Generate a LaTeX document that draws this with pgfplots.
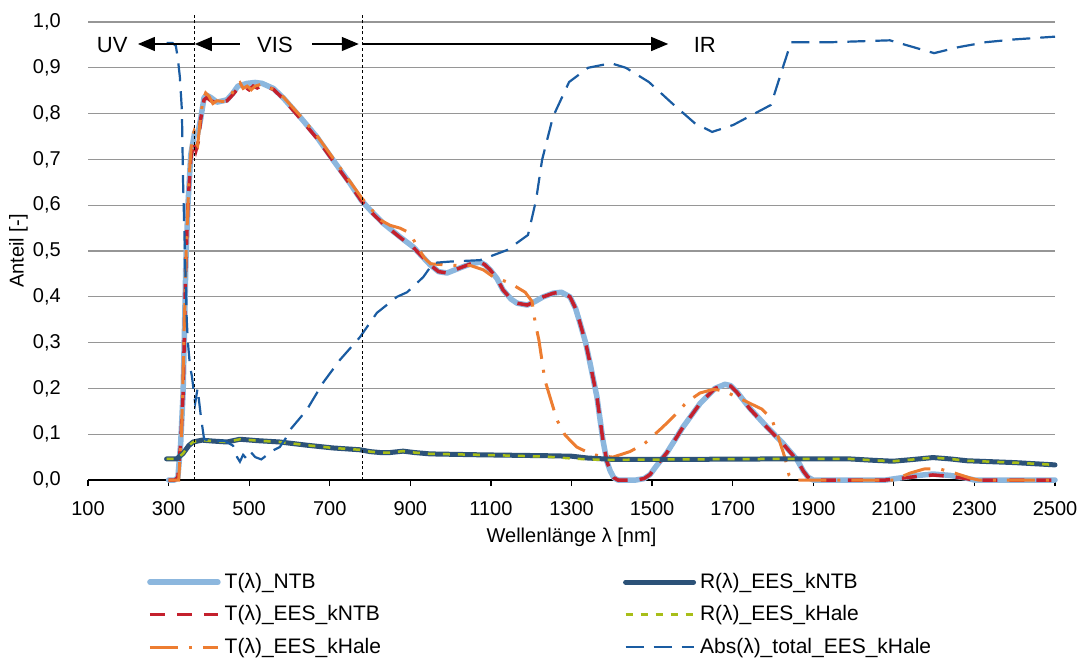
\documentclass[border=0pt]{standalone}
\usepackage{fontspec}
\setmainfont{Liberation Sans}
\usepackage{pgfplots}
\pgfplotsset{compat=1.18}
\usetikzlibrary{arrows.meta}
\definecolor{cLB}{RGB}{140,183,222}
\definecolor{cDB}{RGB}{44,82,120}
\definecolor{cRed}{RGB}{196,32,45}
\definecolor{cOr}{RGB}{237,125,49}
\definecolor{cYG}{RGB}{168,190,24}
\definecolor{cAbs}{RGB}{26,92,162}
\definecolor{cGrid}{RGB}{150,150,150}
\pgfplotsset{
  sTNTB/.style={cLB, line width=5.5pt, line join=round, line cap=round},
  sTkNTB/.style={cRed, line width=3.5pt, dash pattern=on 15pt off 12pt},
  sTkHale/.style={cOr, line width=3pt, dash pattern=on 28pt off 11pt on 3pt off 11pt},
  sRkNTB/.style={cDB, line width=5pt, line join=round, line cap=round},
  sRkHale/.style={cYG, line width=2.5pt, dash pattern=on 7pt off 8pt},
  sAbs/.style={cAbs, line width=2.2pt, dash pattern=on 18pt off 10pt},
}
\begin{document}
\begin{tikzpicture}
\begin{axis}[
  at={(88pt,177pt)}, anchor=south west,
  scale only axis, width=967pt, height=458pt,
  xmin=100, xmax=2500, ymin=0, ymax=1,
  clip=false,
  axis x line*=bottom, axis y line*=left,
  x axis line style={black, line width=1.2pt, -},
  y axis line style={draw=none},
  xtick={100,300,500,700,900,1100,1300,1500,1700,1900,2100,2300,2500},
  ytick={0,0.1,0.2,0.3,0.4,0.5,0.6,0.7,0.8,0.9,1},
  tick align=outside,
  major tick length=6pt,
  xtick style={black, line width=1.2pt},
  ytick style={draw=none},
  ymajorgrids, major grid style={cGrid, line width=1.2pt},
  /pgf/number format/assume math mode=true,
  scaled ticks=false,
  tick label style={font=\fontsize{20}{24}\selectfont},
  xticklabel style={anchor=center, yshift=-23pt, /pgf/number format/.cd, set thousands separator={}},
  yticklabel style={anchor=east, inner sep=0pt, xshift=-21pt, /pgf/number format/.cd, fixed, fixed zerofill, precision=1, use comma},
  xlabel={Wellenlänge λ [nm]},
  ylabel={Anteil [-]},
  label style={font=\fontsize{20}{24}\selectfont},
  xlabel style={at={(axis description cs:0.5,-0.1245)}, anchor=center},
  ylabel style={at={(axis description cs:-0.072,0.5)}, anchor=center, rotate=0},
  legend columns=2,
  legend cell align=left,
  legend image code/.code={\draw (0pt,0pt) -- (68pt,0pt);},
  legend style={draw=none, fill=none, inner sep=0pt,
    at={(axis description cs:0.061,-0.2009)}, anchor=north west,
    font=\fontsize{21}{25}\selectfont, row sep=12.5pt,
    nodes={inner sep=0pt, text height=16pt, text depth=4pt},
    /tikz/every odd column/.append style={column sep=4pt},
    /tikz/every even column/.append style={column sep=242pt}},
]
% T(lambda)_NTB
\addplot[sTNTB, forget plot] coordinates {
(300,0) (315,0) (323,0.005) (330,0.08) (336,0.19) (340,0.35) (343,0.48) (348,0.60) (355,0.71) (365,0.76) (372,0.755) (380,0.79) (388,0.835) (395,0.84) (405,0.835) (420,0.825) (445,0.83) (460,0.845) (472,0.86) (495,0.866) (515,0.868) (532,0.866) (560,0.855) (585,0.834) (626,0.793) (668,0.749) (708,0.699) (750,0.648) (778,0.611) (805,0.585) (832,0.561) (874,0.531) (907,0.509) (949,0.47) (970,0.455) (991,0.452) (1023,0.463) (1050,0.472) (1073,0.476) (1085,0.47) (1098,0.459) (1115,0.44) (1130,0.415) (1150,0.395) (1165,0.386) (1190,0.382) (1210,0.39) (1230,0.40) (1255,0.408) (1275,0.41) (1296,0.40) (1310,0.375) (1321,0.343) (1335,0.30) (1346,0.255) (1363,0.182) (1378,0.087) (1388,0.04) (1396,0.02) (1405,0.005) (1415,0) (1460,0) (1480,0.003) (1495,0.012) (1510,0.03) (1537,0.06) (1577,0.116) (1619,0.167) (1656,0.2) (1681,0.209) (1695,0.206) (1710,0.193) (1743,0.156) (1785,0.116) (1825,0.08) (1860,0.044) (1875,0.02) (1887,0.006) (1900,0) (2080,0) (2120,0.005) (2160,0.01) (2197,0.013) (2240,0.01) (2280,0.004) (2300,0) (2500,0)
};
% T(lambda)_EES_kNTB
\addplot[sTkNTB, forget plot] coordinates {
(300,0) (315,0) (323,0.005) (330,0.08) (336,0.19) (340,0.35) (343,0.48) (348,0.60) (355,0.70) (362,0.74) (368,0.72) (374,0.74) (380,0.79) (388,0.83) (395,0.835) (405,0.828) (420,0.823) (445,0.828) (460,0.842) (472,0.855) (490,0.858) (500,0.852) (510,0.86) (520,0.856) (532,0.862) (560,0.853) (585,0.832) (626,0.79) (668,0.746) (708,0.697) (750,0.646) (778,0.61) (805,0.583) (832,0.56) (874,0.53) (907,0.508) (949,0.47) (970,0.455) (991,0.452) (1023,0.463) (1050,0.472) (1073,0.476) (1085,0.47) (1098,0.459) (1115,0.44) (1130,0.415) (1150,0.395) (1165,0.386) (1190,0.382) (1210,0.39) (1230,0.40) (1255,0.408) (1275,0.41) (1296,0.40) (1310,0.375) (1321,0.343) (1335,0.30) (1346,0.255) (1363,0.182) (1378,0.087) (1388,0.04) (1396,0.02) (1405,0.005) (1415,0) (1460,0) (1480,0.003) (1495,0.012) (1510,0.03) (1537,0.06) (1577,0.116) (1619,0.167) (1656,0.2) (1681,0.208) (1695,0.205) (1710,0.192) (1743,0.155) (1785,0.115) (1825,0.079) (1860,0.043) (1875,0.02) (1887,0.006) (1900,0) (2080,0) (2120,0.004) (2160,0.008) (2197,0.011) (2240,0.008) (2280,0.003) (2300,0) (2500,0)
};
% T(lambda)_EES_kHale
\addplot[sTkHale, forget plot] coordinates {
(300,0) (325,0) (332,0.1) (338,0.3) (343,0.48) (348,0.6) (353,0.69) (358,0.745) (363,0.76) (368,0.735) (372,0.73) (378,0.78) (385,0.83) (392,0.845) (400,0.838) (410,0.822) (420,0.828) (440,0.826) (455,0.84) (470,0.865) (477,0.868) (485,0.855) (495,0.86) (505,0.852) (515,0.86) (530,0.864) (560,0.853) (585,0.836) (626,0.796) (668,0.752) (708,0.703) (750,0.652) (780,0.615) (800,0.595) (825,0.568) (850,0.556) (874,0.55) (890,0.543) (904,0.531) (920,0.505) (935,0.485) (950,0.472) (1000,0.469) (1050,0.468) (1081,0.459) (1105,0.444) (1147,0.43) (1185,0.41) (1202,0.39) (1210,0.343) (1219,0.306) (1234,0.218) (1247,0.18) (1264,0.131) (1284,0.098) (1313,0.072) (1353,0.055) (1403,0.05) (1445,0.062) (1482,0.08) (1527,0.116) (1557,0.142) (1586,0.17) (1619,0.19) (1652,0.198) (1677,0.195) (1718,0.178) (1772,0.155) (1797,0.133) (1810,0.102) (1830,0.048) (1840,0.01) (1850,0) (2100,0) (2140,0.015) (2175,0.024) (2210,0.025) (2252,0.015) (2290,0.004) (2310,0) (2500,0)
};
% R(lambda)_EES_kNTB
\addplot[sRkNTB, forget plot] coordinates {
(295,0.046) (320,0.046) (336,0.058) (350,0.075) (361,0.083) (383,0.087) (410,0.085) (445,0.083) (477,0.089) (519,0.086) (576,0.083) (643,0.076) (708,0.07) (775,0.066) (800,0.062) (825,0.06) (850,0.06) (882,0.063) (910,0.06) (949,0.057) (1073,0.055) (1239,0.053) (1300,0.052) (1340,0.048) (1403,0.045) (1569,0.045) (1800,0.046) (1991,0.046) (2050,0.043) (2098,0.041) (2150,0.045) (2197,0.049) (2240,0.046) (2282,0.042) (2400,0.038) (2500,0.033)
};
% R(lambda)_EES_kHale
\addplot[sRkHale, forget plot] coordinates {
(295,0.046) (320,0.046) (336,0.058) (350,0.075) (361,0.083) (383,0.087) (410,0.085) (445,0.083) (477,0.089) (519,0.086) (576,0.083) (643,0.076) (708,0.07) (775,0.066) (800,0.062) (825,0.06) (850,0.06) (882,0.063) (910,0.06) (949,0.057) (1073,0.055) (1239,0.051) (1300,0.047) (1340,0.045) (1403,0.044) (1569,0.045) (1800,0.046) (1991,0.046) (2050,0.043) (2098,0.041) (2150,0.045) (2197,0.049) (2240,0.046) (2282,0.042) (2400,0.038) (2500,0.033)
};
% Abs(lambda)_total_EES_kHale
\addplot[sAbs, forget plot] coordinates {
(295,0.954) (310,0.954) (318,0.948) (323,0.92) (328,0.88) (333,0.808) (336,0.65) (341,0.48) (345,0.35) (348,0.3) (353,0.25) (358,0.226) (366,0.168) (372,0.2) (380,0.14) (388,0.09) (400,0.085) (440,0.085) (460,0.075) (470,0.05) (477,0.04) (485,0.055) (495,0.045) (505,0.06) (515,0.05) (530,0.045) (545,0.055) (560,0.065) (576,0.072) (590,0.09) (601,0.109) (643,0.153) (683,0.212) (725,0.262) (775,0.312) (817,0.365) (867,0.4) (892,0.41) (932,0.443) (957,0.474) (1000,0.477) (1073,0.48) (1140,0.502) (1192,0.535) (1212,0.611) (1227,0.699) (1254,0.793) (1294,0.869) (1341,0.9) (1398,0.91) (1435,0.9) (1492,0.869) (1549,0.823) (1606,0.779) (1649,0.76) (1701,0.775) (1795,0.819) (1825,0.902) (1845,0.956) (1950,0.956) (2090,0.96) (2200,0.932) (2260,0.945) (2329,0.956) (2400,0.962) (2500,0.968)
};
\addlegendimage{sTNTB}\addlegendentry{T(λ)\_NTB}
\addlegendimage{sRkNTB}\addlegendentry{R(λ)\_EES\_kNTB}
\addlegendimage{sTkNTB}\addlegendentry{T(λ)\_EES\_kNTB}
\addlegendimage{sRkHale}\addlegendentry{R(λ)\_EES\_kHale}
\addlegendimage{sTkHale}\addlegendentry{T(λ)\_EES\_kHale}
\addlegendimage{sAbs}\addlegendentry{Abs(λ)\_total\_EES\_kHale}
% region markers
\draw[black, line width=0.9pt, dash pattern=on 3pt off 2.5pt] (axis cs:365,0) -- (axis cs:365,1.016);
\draw[black, line width=0.9pt, dash pattern=on 3pt off 2.5pt] (axis cs:780,0) -- (axis cs:780,1.016);
\draw[black, line width=1.3pt, -{Triangle[length=17pt,width=14pt]}] (axis cs:365,0.952) -- (axis cs:224,0.952);
\draw[black, line width=1.3pt, -{Triangle[length=17pt,width=14pt]}] (axis cs:477,0.952) -- (axis cs:365,0.952);
\draw[black, line width=1.3pt, -{Triangle[length=17pt,width=14pt]}] (axis cs:656,0.952) -- (axis cs:772,0.952);
\draw[black, line width=1.3pt, -{Triangle[length=17pt,width=14pt]}] (axis cs:780,0.952) -- (axis cs:1540,0.952);
\node[font=\fontsize{22}{26}\selectfont] at (axis cs:160,0.950) {UV};
\node[font=\fontsize{22}{26}\selectfont] at (axis cs:564,0.950) {VIS};
\node[font=\fontsize{22}{26}\selectfont] at (axis cs:1631,0.950) {IR};
\end{axis}
\path (0pt,0pt) rectangle (1084pt,657pt);
\end{tikzpicture}
\end{document}
